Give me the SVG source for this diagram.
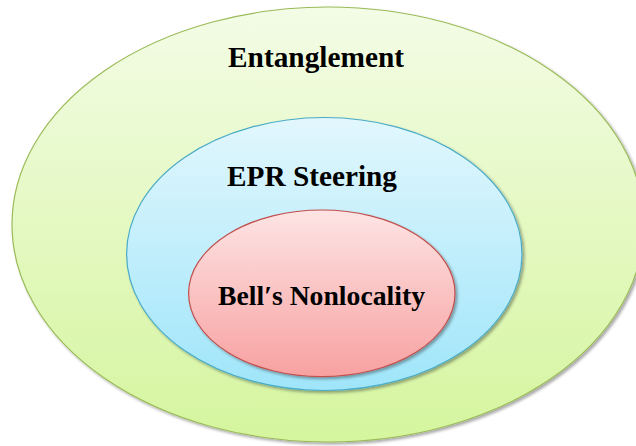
<svg xmlns="http://www.w3.org/2000/svg" width="636" height="446" viewBox="0 0 636 446">
<defs>
<linearGradient id="gOuter" x1="0" y1="0" x2="0" y2="1">
<stop offset="0" stop-color="#f3fce6"/>
<stop offset="1" stop-color="#d5f59e"/>
</linearGradient>
<linearGradient id="gMid" x1="0" y1="0" x2="0" y2="1">
<stop offset="0" stop-color="#e2f7fd"/>
<stop offset="1" stop-color="#9fe5fa"/>
</linearGradient>
<linearGradient id="gIn" x1="0" y1="0" x2="0" y2="1">
<stop offset="0" stop-color="#fde4e4"/>
<stop offset="1" stop-color="#f8a1a1"/>
</linearGradient>
<filter id="sh" x="-10%" y="-10%" width="120%" height="120%">
<feGaussianBlur in="SourceAlpha" stdDeviation="1.5"/>
<feOffset dx="1.5" dy="2" result="b"/>
<feComponentTransfer><feFuncA type="linear" slope="0.35"/></feComponentTransfer>
<feMerge><feMergeNode/><feMergeNode in="SourceGraphic"/></feMerge>
</filter>
<style>
.lbl{font-family:"Liberation Serif","Times New Roman",serif;font-weight:bold;font-size:29px;fill:#000;text-anchor:middle}
</style>
</defs>
<rect width="636" height="446" fill="#ffffff"/>
<g id="entanglement">
<ellipse cx="328" cy="224.5" rx="316" ry="217.5" fill="url(#gOuter)" stroke="#9bbb59" stroke-width="1.2" filter="url(#sh)"/>
<text class="lbl" x="316" y="67" textLength="176" lengthAdjust="spacingAndGlyphs">Entanglement</text>
</g>
<g id="epr-steering">
<ellipse cx="324.3" cy="254" rx="197.7" ry="136.5" fill="url(#gMid)" stroke="#4bacc6" stroke-width="1.2" filter="url(#sh)"/>
<text class="lbl" x="312" y="186" textLength="170" lengthAdjust="spacingAndGlyphs">EPR Steering</text>
</g>
<g id="bell-nonlocality">
<ellipse cx="321.8" cy="293.3" rx="133.2" ry="83.3" fill="url(#gIn)" stroke="#c0504d" stroke-width="1.2" filter="url(#sh)"/>
<text class="lbl" x="321.5" y="305" style="font-size:28px" textLength="207" lengthAdjust="spacingAndGlyphs">Bell′s Nonlocality</text>
</g>
<g id="connectors"/>
</svg>
